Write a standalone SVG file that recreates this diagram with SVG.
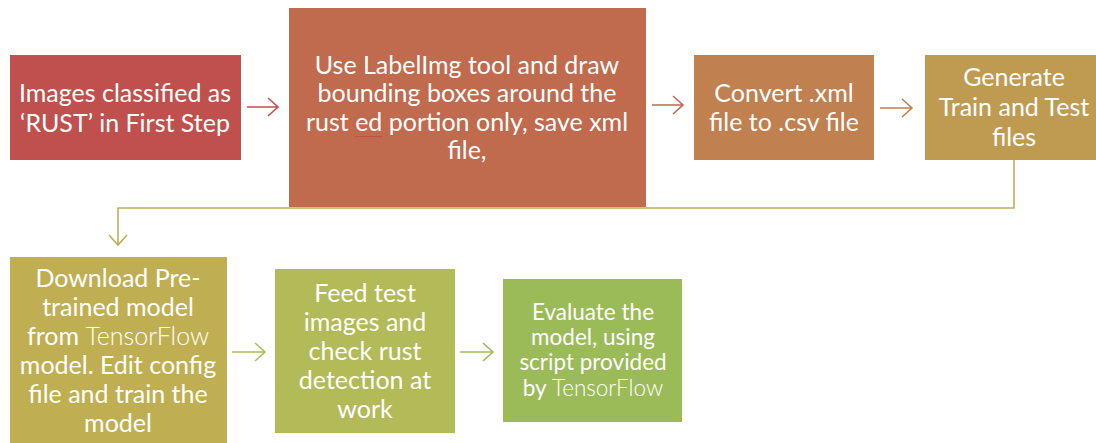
<svg xmlns="http://www.w3.org/2000/svg" width="1096" height="443" viewBox="0 0 1096 443">
<style>
text{font-family:Lato,"Open Sans","Liberation Sans",sans-serif;fill:#fff;text-anchor:middle}
.t{font-size:25px}
.s{font-size:22.5px}
.l{font-weight:300}
.a{fill:none;stroke-width:1.6}
</style>
<rect width="1096" height="443" fill="#fff"/>
<g id="connectors">
<g class="a" stroke="#C0504D"><path d="M247 107H278M268 98L278 107L268 116"/></g>
<g class="a" stroke="#C0694E"><path d="M652 105H683M673 96L683 105L673 114"/></g>
<g class="a" stroke="#C0804F"><path d="M880 108H912M902 99L912 108L902 117"/></g>
<g class="a" stroke="#BFAF55"><path d="M1014 160V208H118V245M109 235L118 245L127 235"/></g>
<g class="a" stroke="#AFBB57"><path d="M232 352H265M255 343L265 352L255 361"/></g>
<g class="a" stroke="#A3BB58"><path d="M460 352H493M483 343L493 352L483 361"/></g>
</g>
<g id="n1"><rect x="10" y="55" width="231" height="105" fill="#C0504D"/>
<text class="t" x="125" y="102">Images classified as</text><text class="t" x="125" y="132">‘RUST’ in First Step</text></g>
<g id="n2"><rect x="289" y="8" width="357" height="199" fill="#C06A4E"/>
<text class="t" x="467" y="74">Use LabelImg tool and draw</text><text class="t" x="467" y="102">bounding boxes around the</text><text class="t" x="467" y="131">rust ed portion only, save xml</text><text class="t" x="467" y="159">file,</text>
<path d="M355 136.5H383" stroke="#C0504D" stroke-width="1" fill="none"/></g>
<g id="n3"><rect x="694" y="55" width="180" height="105" fill="#C0804F"/>
<text class="t" x="784" y="102">Convert .xml</text><text class="t" x="784" y="131">file to .csv file</text></g>
<g id="n4"><rect x="925" y="55" width="171" height="105" fill="#BF9B52"/>
<text class="t" x="1014" y="86">Generate</text><text class="t" x="1014" y="116">Train and Test</text><text class="t" x="1014" y="146">files</text></g>
<g id="n5"><rect x="10" y="257" width="217" height="186" fill="#BFAF52"/>
<text class="t" x="118" y="287">Download Pre-</text><text class="t" x="118" y="316">trained model</text><text class="t" x="118" y="345">from <tspan class="l">TensorFlow</tspan></text><text class="t" x="118" y="374">model. Edit config</text><text class="t" x="118" y="403">file and train the</text><text class="t" x="118" y="432">model</text></g>
<g id="n6"><rect x="275" y="269" width="180" height="164" fill="#B2BB58"/>
<text class="t" x="365" y="302">Feed test</text><text class="t" x="365" y="331">images and</text><text class="t" x="365" y="360">check rust</text><text class="t" x="365" y="389">detection at</text><text class="t" x="365" y="418">work</text></g>
<g id="n7"><rect x="503" y="279" width="179" height="143" fill="#9BBB59"/>
<text class="s" x="593" y="320">Evaluate the</text><text class="s" x="593" y="345">model, using</text><text class="s" x="593" y="370">script provided</text><text class="s" x="593" y="396">by <tspan class="l">TensorFlow</tspan></text></g>
</svg>
